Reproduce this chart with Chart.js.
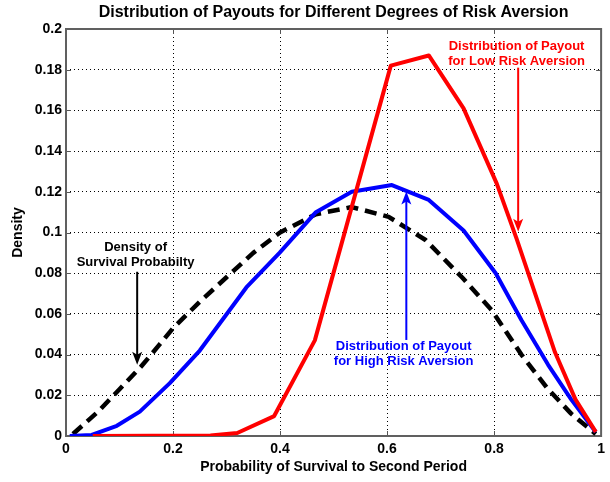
<!doctype html>
<html lang="en">
<head>
<meta charset="utf-8">
<title>Distribution of Payouts for Different Degrees of Risk Aversion</title>
<style>
  html, body { margin: 0; padding: 0; background: #fff; }
  #wrap { width: 610px; height: 482px; }
</style>
</head>
<body>
<div id="wrap"><canvas id="canvas" width="610" height="482"></canvas></div>
<script src="https://cdn.jsdelivr.net/npm/chart.js@4"></script>
<script>
// axis ticks
const xTicks = [0, 0.2, 0.4, 0.6, 0.8, 1];
const yTicks = [0, 0.02, 0.04, 0.06, 0.08, 0.1, 0.12, 0.14, 0.16, 0.18, 0.2];

// payout density, low risk aversion
const lowRiskX = [0.05, 0.27, 0.32, 0.389, 0.465, 0.607, 0.678, 0.743, 0.805, 0.842, 0.883, 0.914, 0.952, 0.99];
const lowRiskY = [0, 0.0003, 0.0015, 0.0098, 0.047, 0.182, 0.187, 0.161, 0.124, 0.097, 0.065, 0.041, 0.018, 0.002];

// payout density, high risk aversion
const highRiskX = [0.007, 0.048, 0.095, 0.138, 0.194, 0.25, 0.337, 0.399, 0.467, 0.534, 0.609, 0.678, 0.743, 0.803, 0.851, 0.901, 0.944, 0.99];
const highRiskY = [0, 0.0005, 0.005, 0.012, 0.026, 0.042, 0.073, 0.09, 0.11, 0.12, 0.1233, 0.116, 0.101, 0.08, 0.057, 0.035, 0.018, 0.002];

// density of the survival probability
const survivalX = [0.013, 0.06, 0.1, 0.14, 0.175, 0.2, 0.25, 0.3, 0.35, 0.4, 0.467, 0.534, 0.603, 0.672, 0.74, 0.795, 0.851, 0.901, 0.944, 0.99];
const survivalY = [0.001, 0.012, 0.023, 0.034, 0.045, 0.053, 0.066, 0.078, 0.09, 0.1, 0.109, 0.1125, 0.1077, 0.0963, 0.078, 0.062, 0.04, 0.023, 0.011, 0.001];

// text callouts with arrows (data units)
const notes = [
  { lines: ['Distribution of Payout', 'for Low Risk Aversion'], color: '#ff0000',
    tx: 0.842, ty: 0.1914, ax: 0.845, from: 0.181, to: 0.1004 },
  { lines: ['Distribution of Payout', 'for High Risk Aversion'], color: '#0000ff',
    tx: 0.631, ty: 0.0438, ax: 0.636, from: 0.0472, to: 0.1202 },
  { lines: ['Density of', 'Survival Probabilty'], color: '#000000',
    tx: 0.130, ty: 0.0925, ax: 0.133, from: 0.0807, to: 0.035 }
];

const pts = (xs, ys) => xs.map((v, i) => ({ x: v, y: ys[i] }));
const FONT = '"Liberation Sans", Arial, Helvetica, sans-serif';

// axes box with inward tick marks, plus the title
const frame = {
  id: 'frame',
  beforeDatasetsDraw(chart) {
    const { ctx, chartArea: a, scales: { x, y } } = chart;
    ctx.save();
    ctx.strokeStyle = '#555';
    ctx.lineWidth = 1;
    ctx.beginPath();
    xTicks.forEach(v => {
      const px = Math.round(x.getPixelForValue(v)) + 0.5;
      ctx.moveTo(px, a.bottom); ctx.lineTo(px, a.bottom - 5);
      ctx.moveTo(px, a.top); ctx.lineTo(px, a.top + 5);
    });
    yTicks.forEach(v => {
      const py = Math.round(y.getPixelForValue(v)) + 0.5;
      ctx.moveTo(a.left, py); ctx.lineTo(a.left + 5, py);
      ctx.moveTo(a.right, py); ctx.lineTo(a.right - 5, py);
    });
    ctx.stroke();
    ctx.lineWidth = 2;
    ctx.strokeStyle = '#606060';
    ctx.strokeRect(a.left, a.top, a.right - a.left, a.bottom - a.top);
    ctx.restore();
  },
  afterDraw(chart) {
    const { ctx, chartArea: a } = chart;
    ctx.save();
    ctx.fillStyle = '#000';
    ctx.font = 'bold 16px ' + FONT;
    ctx.textAlign = 'center';
    ctx.textBaseline = 'middle';
    ctx.fillText('Distribution of Payouts for Different Degrees of Risk Aversion', (a.left + a.right) / 2, 13);
    ctx.restore();
  }
};

// callout labels and arrows
const callouts = {
  id: 'callouts',
  afterDatasetsDraw(chart) {
    const { ctx, scales: { x, y } } = chart;
    ctx.save();
    notes.forEach(n => {
      ctx.fillStyle = n.color;
      ctx.strokeStyle = n.color;
      ctx.font = 'bold 13px ' + FONT;
      ctx.textAlign = 'center';
      ctx.textBaseline = 'middle';
      const tx = x.getPixelForValue(n.tx);
      let ty = y.getPixelForValue(n.ty);
      n.lines.forEach(s => { ctx.fillText(s, tx, ty); ty += 15; });

      const ax = x.getPixelForValue(n.ax);
      const y0 = y.getPixelForValue(n.from);
      const y1 = y.getPixelForValue(n.to);
      const dir = y1 > y0 ? 1 : -1;
      ctx.lineWidth = 2;
      ctx.beginPath();
      ctx.moveTo(ax, y0);
      ctx.lineTo(ax, y1 - dir * 8);
      ctx.stroke();
      ctx.beginPath();
      ctx.moveTo(ax, y1);
      ctx.lineTo(ax - 5, y1 - dir * 13);
      ctx.lineTo(ax, y1 - dir * 10);
      ctx.lineTo(ax + 5, y1 - dir * 13);
      ctx.closePath();
      ctx.fill();
    });
    ctx.restore();
  }
};

const tickFont = { family: FONT, size: 14, weight: 'bold' };

new Chart(document.getElementById('canvas').getContext('2d'), {
  type: 'line',
  data: {
    datasets: [
      { label: 'Low risk aversion', data: pts(lowRiskX, lowRiskY),
        borderColor: '#ff0000', borderWidth: 4 },
      { label: 'High risk aversion', data: pts(highRiskX, highRiskY),
        borderColor: '#0000ff', borderWidth: 4 },
      { label: 'Survival probability', data: pts(survivalX, survivalY),
        borderColor: '#000000', borderWidth: 4.5, borderDash: [12, 7] }
    ]
  },
  options: {
    responsive: false,
    animation: false,
    devicePixelRatio: 1,
    layout: { padding: { top: 29, right: 7, left: 0, bottom: 0 } },
    elements: {
      point: { radius: 0 },
      line: { tension: 0, fill: false, borderJoinStyle: 'round' }
    },
    plugins: {
      legend: { display: false },
      tooltip: { enabled: false }
    },
    scales: {
      x: {
        type: 'linear', min: 0, max: 1,
        afterBuildTicks: s => { s.ticks = xTicks.map(v => ({ value: v })); },
        afterFit: s => { s.height = 46; },
        ticks: { font: tickFont, color: '#000', padding: 5, maxRotation: 0,
                 callback: v => String(Number(v.toFixed(2))) },
        grid: { color: '#000', lineWidth: 1, drawTicks: false },
        border: { display: false, dash: [1, 3] },
        title: { display: true, text: 'Probability of Survival to Second Period',
                 font: tickFont, color: '#000', padding: { top: 0, bottom: 6 } }
      },
      y: {
        type: 'linear', min: 0, max: 0.2,
        afterBuildTicks: s => { s.ticks = yTicks.map(v => ({ value: v })); },
        afterFit: s => { s.width = 66; },
        ticks: { font: tickFont, color: '#000', padding: 4,
                 callback: v => String(Number(v.toFixed(2))) },
        grid: { color: '#000', lineWidth: 1, drawTicks: false },
        border: { display: false, dash: [1, 3] },
        title: { display: true, text: 'Density',
                 font: tickFont, color: '#000', padding: { top: 10, bottom: 0 } }
      }
    }
  },
  plugins: [frame, callouts]
});
</script>
</body>
</html>
